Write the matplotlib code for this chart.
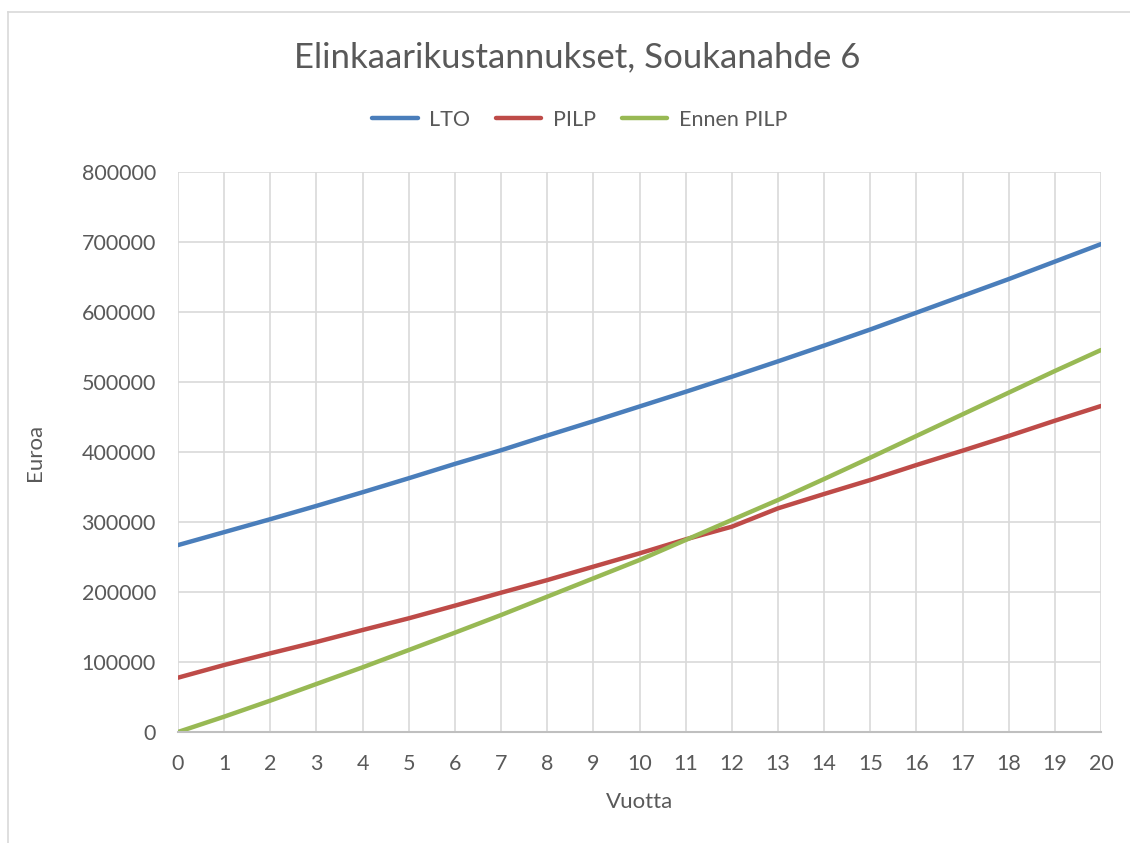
import matplotlib
matplotlib.use("Agg")
import matplotlib.pyplot as plt
from matplotlib.lines import Line2D

plt.rcParams["font.family"] = ["Lato", "DejaVu Sans"]

# vuodet ja kustannukset (luettu kuvasta)
years = list(range(21))
lto = [267000, 285500, 304000, 323000, 342500, 362500, 383000, 402500, 423500,
       444000, 465000, 486000, 507500, 529500, 552000, 575000, 599000, 623000,
       647000, 672000, 697000]
pilp = [77600, 95700, 112400, 128600, 145700, 162400, 180500, 199000, 217000,
        236200, 255200, 275200, 293300, 319500, 340000, 360000, 381400, 401900,
        422900, 444700, 465700]
ennen_pilp = [0, 21900, 44800, 68600, 92400, 117100, 141900, 167100, 193300,
              219500, 245700, 274300, 302900, 331400, 361400, 391900, 422900,
              453800, 484800, 515700, 545700]
series_names = ["LTO", "PILP", "Ennen PILP"]
colors = ["#4a7ebb", "#be4b48", "#98b954"]

txt = "#595959"

fig = plt.figure(figsize=(11.3, 8.43), dpi=100)
ax = fig.add_axes([178 / 1130, 111 / 843, 923 / 1130, 560 / 843])

for vals, name, c in zip([lto, pilp, ennen_pilp], series_names, colors):
    ax.plot(years, vals, color=c, lw=3.2, label=name, solid_capstyle="round")

ax.set_xlim(0, 20)
ax.set_ylim(0, 800000)
ax.set_xticks(years)
ax.set_yticks(range(0, 800001, 100000))
ax.set_yticklabels([str(v) for v in range(0, 800001, 100000)])
ax.grid(True, color="#d9d9d9", lw=1.2)
ax.set_axisbelow(True)
for s in ["top", "right", "left"]:
    ax.spines[s].set_visible(False)
ax.spines["bottom"].set_color("#bfbfbf")
ax.spines["bottom"].set_linewidth(1.5)
ax.tick_params(length=0, labelsize=15.5, labelcolor=txt)
ax.tick_params(axis="x", pad=16)
ax.tick_params(axis="y", pad=16)

ax.set_xlabel("Vuotta", fontsize=16, color=txt, va="center")
ax.set_ylabel("Euroa", fontsize=16, color=txt, va="center")
ax.xaxis.set_label_coords(0.5, -70 / 560)
ax.yaxis.set_label_coords(-143 / 923, 0.5)

fig.text(577 / 1130, 1 - 57 / 843, "Elinkaarikustannukset, Soukanahde 6",
         ha="center", va="center", fontsize=25, color=txt)

leg = fig.legend(loc="center", bbox_to_anchor=(580 / 1130, 1 - 120 / 843),
                 ncol=3, frameon=False, fontsize=15.5, handlelength=2.1,
                 columnspacing=1.2, handletextpad=0.55)
for t in leg.get_texts():
    t.set_color(txt)

# chart border (top and left visible)
fig.add_artist(Line2D([8 / 1130, 1], [1 - 12 / 843, 1 - 12 / 843],
                      transform=fig.transFigure, color="#d9d9d9", lw=1.2))
fig.add_artist(Line2D([8 / 1130, 8 / 1130], [0, 1 - 12 / 843],
                      transform=fig.transFigure, color="#d9d9d9", lw=1.2))

fig.savefig("out.png", dpi=100)
plt.close(fig)
